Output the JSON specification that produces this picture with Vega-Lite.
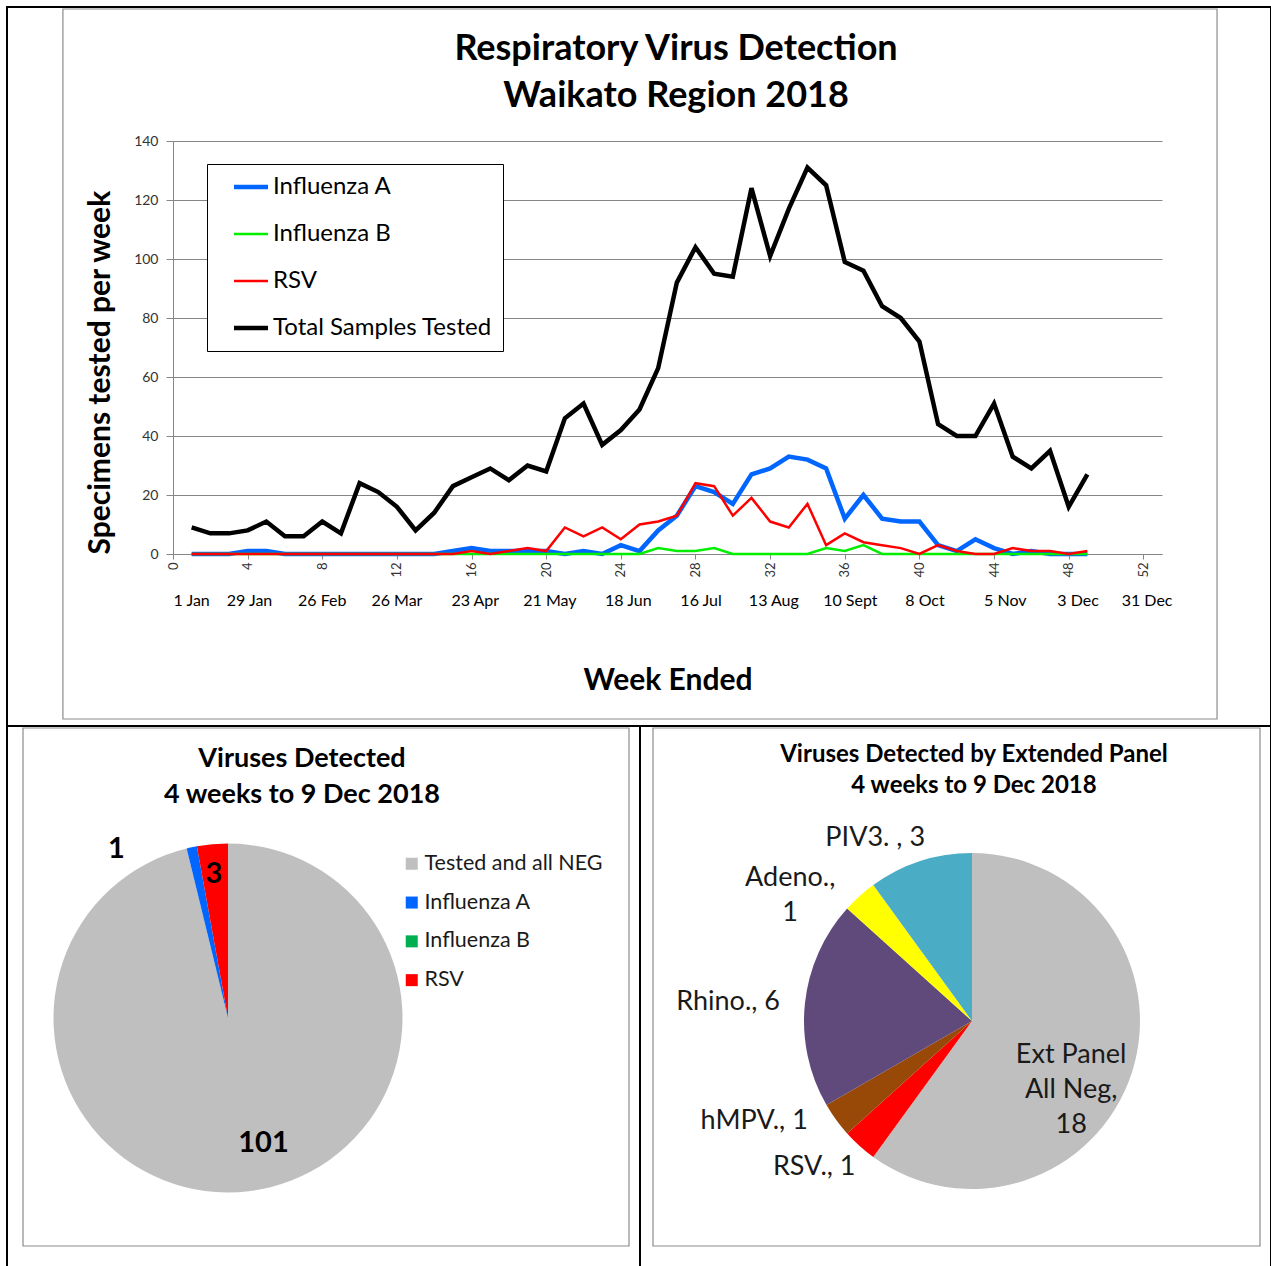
{
  "$schema": "https://vega.github.io/schema/vega-lite/v6.json",
  "padding": {"left": 6, "top": 6, "right": 0, "bottom": 0},
  "background": "white",
  "config": {
    "font": "Lato",
    "view": {"stroke": "black", "strokeWidth": 2}
  },
  "datasets": {
    "weekly": [
      {"week": 1, "fluA": 0, "fluB": 0, "rsv": 0, "total": 9},
      {"week": 2, "fluA": 0, "fluB": 0, "rsv": 0, "total": 7},
      {"week": 3, "fluA": 0, "fluB": 0, "rsv": 0, "total": 7},
      {"week": 4, "fluA": 1, "fluB": 0, "rsv": 0, "total": 8},
      {"week": 5, "fluA": 1, "fluB": 0, "rsv": 0, "total": 11},
      {"week": 6, "fluA": 0, "fluB": 0, "rsv": 0, "total": 6},
      {"week": 7, "fluA": 0, "fluB": 0, "rsv": 0, "total": 6},
      {"week": 8, "fluA": 0, "fluB": 0, "rsv": 0, "total": 11},
      {"week": 9, "fluA": 0, "fluB": 0, "rsv": 0, "total": 7},
      {"week": 10, "fluA": 0, "fluB": 0, "rsv": 0, "total": 24},
      {"week": 11, "fluA": 0, "fluB": 0, "rsv": 0, "total": 21},
      {"week": 12, "fluA": 0, "fluB": 0, "rsv": 0, "total": 16},
      {"week": 13, "fluA": 0, "fluB": 0, "rsv": 0, "total": 8},
      {"week": 14, "fluA": 0, "fluB": 0, "rsv": 0, "total": 14},
      {"week": 15, "fluA": 1, "fluB": 0, "rsv": 0, "total": 23},
      {"week": 16, "fluA": 2, "fluB": 0, "rsv": 1, "total": 26},
      {"week": 17, "fluA": 1, "fluB": 0, "rsv": 0, "total": 29},
      {"week": 18, "fluA": 1, "fluB": 0, "rsv": 1, "total": 25},
      {"week": 19, "fluA": 1, "fluB": 0, "rsv": 2, "total": 30},
      {"week": 20, "fluA": 1, "fluB": 0, "rsv": 1, "total": 28},
      {"week": 21, "fluA": 0, "fluB": 0, "rsv": 9, "total": 46},
      {"week": 22, "fluA": 1, "fluB": 0, "rsv": 6, "total": 51},
      {"week": 23, "fluA": 0, "fluB": 0, "rsv": 9, "total": 37},
      {"week": 24, "fluA": 3, "fluB": 0, "rsv": 5, "total": 42},
      {"week": 25, "fluA": 1, "fluB": 0, "rsv": 10, "total": 49},
      {"week": 26, "fluA": 8, "fluB": 2, "rsv": 11, "total": 63},
      {"week": 27, "fluA": 13, "fluB": 1, "rsv": 13, "total": 92},
      {"week": 28, "fluA": 23, "fluB": 1, "rsv": 24, "total": 104},
      {"week": 29, "fluA": 21, "fluB": 2, "rsv": 23, "total": 95},
      {"week": 30, "fluA": 17, "fluB": 0, "rsv": 13, "total": 94},
      {"week": 31, "fluA": 27, "fluB": 0, "rsv": 19, "total": 124},
      {"week": 32, "fluA": 29, "fluB": 0, "rsv": 11, "total": 101},
      {"week": 33, "fluA": 33, "fluB": 0, "rsv": 9, "total": 117},
      {"week": 34, "fluA": 32, "fluB": 0, "rsv": 17, "total": 131},
      {"week": 35, "fluA": 29, "fluB": 2, "rsv": 3, "total": 125},
      {"week": 36, "fluA": 12, "fluB": 1, "rsv": 7, "total": 99},
      {"week": 37, "fluA": 20, "fluB": 3, "rsv": 4, "total": 96},
      {"week": 38, "fluA": 12, "fluB": 0, "rsv": 3, "total": 84},
      {"week": 39, "fluA": 11, "fluB": 0, "rsv": 2, "total": 80},
      {"week": 40, "fluA": 11, "fluB": 0, "rsv": 0, "total": 72},
      {"week": 41, "fluA": 3, "fluB": 0, "rsv": 3, "total": 44},
      {"week": 42, "fluA": 1, "fluB": 0, "rsv": 1, "total": 40},
      {"week": 43, "fluA": 5, "fluB": 0, "rsv": 0, "total": 40},
      {"week": 44, "fluA": 2, "fluB": 0, "rsv": 0, "total": 51},
      {"week": 45, "fluA": 0, "fluB": 0, "rsv": 2, "total": 33},
      {"week": 46, "fluA": 1, "fluB": 0, "rsv": 1, "total": 29},
      {"week": 47, "fluA": 0, "fluB": 0, "rsv": 1, "total": 35},
      {"week": 48, "fluA": 0, "fluB": 0, "rsv": 0, "total": 16},
      {"week": 49, "fluA": 0, "fluB": 0, "rsv": 1, "total": 27}
    ],
    "dates": [
      {"week": 1, "date": "1 Jan"},
      {"week": 4.1, "date": "29 Jan"},
      {"week": 8, "date": "26 Feb"},
      {"week": 12, "date": "26 Mar"},
      {"week": 16.2, "date": "23 Apr"},
      {"week": 20.2, "date": "21 May"},
      {"week": 24.4, "date": "18 Jun"},
      {"week": 28.3, "date": "16 Jul"},
      {"week": 32.2, "date": "13 Aug"},
      {"week": 36.3, "date": "10 Sept"},
      {"week": 40.3, "date": "8 Oct"},
      {"week": 44.6, "date": "5 Nov"},
      {"week": 48.5, "date": "3 Dec"},
      {"week": 52.2, "date": "31 Dec"}
    ],
    "routine": [
      {"virus": "Tested and all NEG", "count": 101, "k": 1},
      {"virus": "Influenza A", "count": 1, "k": 2},
      {"virus": "Influenza B", "count": 0, "k": 3},
      {"virus": "RSV", "count": 3, "k": 4}
    ],
    "extended": [
      {"virus": "Ext Panel All Neg", "count": 18, "k": 1, "label": "Ext Panel\nAll Neg,\n18"},
      {"virus": "RSV.", "count": 1, "k": 2, "label": "RSV., 1"},
      {"virus": "hMPV.", "count": 1, "k": 3, "label": "hMPV., 1"},
      {"virus": "Rhino.", "count": 6, "k": 4, "label": "Rhino., 6"},
      {"virus": "Adeno.", "count": 1, "k": 5, "label": "Adeno.,\n1"},
      {"virus": "PIV3. ", "count": 3, "k": 6, "label": "PIV3. , 3"}
    ]
  },
  "spacing": 0,
  "bounds": "flush",
  "resolve": {
    "scale": {"color": "independent", "theta": "independent", "x": "independent", "y": "independent"},
    "legend": {"color": "independent"}
  },
  "vconcat": [
    {
      "width": 1264,
      "height": 719,
      "title": {
        "text": ["Respiratory Virus Detection", "Waikato Region 2018"],
        "fontSize": 36, "fontWeight": "bold", "lineHeight": 47, "color": "black",
        "anchor": "middle", "frame": "group", "offset": -108, "dx": 37
      },
      "layer": [
        {
          "data": {"values": [{}]},
          "mark": {"type": "rect", "filled": false, "stroke": "#8c8c8c", "strokeWidth": 1.2},
          "encoding": {
            "x": {"datum": -5.9, "type": "quantitative"},
            "x2": {"datum": 55.95},
            "y": {"datum": 184.75, "type": "quantitative"},
            "y2": {"datum": -55.93}
          }
        },
        {
          "data": {"name": "weekly"},
          "transform": [{"fold": ["fluA", "fluB", "rsv", "total"], "as": ["series", "value"]}],
          "mark": {"type": "line", "strokeJoin": "miter"},
          "encoding": {
            "x": {
              "field": "week", "type": "quantitative",
              "scale": {"domain": [0, 53], "range": [166, 1155], "nice": false, "zero": false},
              "axis": {
                "values": [0, 4, 8, 12, 16, 20, 24, 28, 32, 36, 40, 44, 48, 52],
                "labelAngle": -90, "labelFontSize": 13, "labelColor": "#333333", "labelPadding": 3,
                "labelFlush": false, "labelOverlap": false,
                "tickSize": 5, "tickColor": "#868686", "domainColor": "#868686", "grid": false,
                "offset": -172,
                "title": "Week Ended", "titleFontSize": 30, "titleFontWeight": "bold", "titleColor": "black",
                "titlePadding": 88
              }
            },
            "y": {
              "field": "value", "type": "quantitative",
              "scale": {"domain": [0, 140], "range": [547, 134], "nice": false},
              "axis": {
                "values": [0, 20, 40, 60, 80, 100, 120, 140],
                "grid": true, "gridColor": "#868686", "gridWidth": 1,
                "tickSize": 7, "tickColor": "#868686", "domainColor": "#868686",
                "labelFontSize": 14, "labelColor": "#333333", "labelPadding": 8,
                "offset": -166,
                "title": "Specimens tested per week", "titleFontSize": 30, "titleFontWeight": "bold",
                "titleColor": "black", "titleAnchor": "start", "titlePadding": 18
              }
            },
            "color": {
              "field": "series", "type": "nominal",
              "scale": {"domain": ["fluA", "fluB", "rsv", "total"], "range": ["#0066FF", "#00EE00", "#FF0000", "#000000"]},
              "legend": {
                "orient": "none", "legendX": 200, "legendY": 157, "title": null,
                "strokeColor": "black", "fillColor": "white", "padding": 11,
                "symbolType": "stroke", "symbolSize": 1156, "symbolOffset": 21,
                "labelFontSize": 24, "labelColor": "black", "labelOffset": 10, "rowPadding": 23, "labelLimit": 500,
                "labelExpr": "datum.label == 'fluA' ? 'Influenza A' : datum.label == 'fluB' ? 'Influenza B' : datum.label == 'rsv' ? 'RSV' : 'Total Samples Tested'",
                "encode": {
                  "symbols": {
                    "update": {
                      "strokeWidth": {"signal": "datum.value === 'fluA' || datum.value === 'total' ? 4.5 : 2.5"}
                    }
                  }
                }
              }
            },
            "strokeWidth": {
              "condition": {"test": "datum.series === 'fluA' || datum.series === 'total'", "value": 4.5},
              "value": 2.5
            }
          }
        },
        {
          "data": {"name": "dates"},
          "mark": {"type": "text", "fontSize": 16, "color": "black", "baseline": "middle", "align": "center"},
          "encoding": {
            "x": {"field": "week", "type": "quantitative"},
            "y": {"datum": -16, "type": "quantitative"},
            "text": {"field": "date", "type": "nominal"}
          }
        }
      ]
    },
    {
      "spacing": 0,
      "bounds": "flush",
      "resolve": {
        "scale": {"color": "independent", "theta": "independent", "x": "independent", "y": "independent"},
        "legend": {"color": "independent"}
      },
      "hconcat": [
        {
          "width": 633,
          "height": 545,
          "title": {
            "text": ["Viruses Detected", "4 weeks to 9 Dec 2018"],
            "fontSize": 27, "fontWeight": "bold", "lineHeight": 36, "color": "black",
            "anchor": "middle", "frame": "group", "offset": -83, "dx": -21.5
          },
          "data": {"name": "routine"},
          "layer": [
            {
              "data": {"values": [{}]},
              "mark": {"type": "rect", "filled": false, "stroke": "#8c8c8c", "strokeWidth": 1.2},
              "encoding": {
                "x": {"datum": 0.02528, "type": "quantitative", "scale": {"domain": [0, 1]}, "axis": null},
                "x2": {"datum": 0.98262},
                "y": {"datum": 0.99633, "type": "quantitative", "scale": {"domain": [0, 1]}, "axis": null},
                "y2": {"datum": 0.04587}
              }
            },
            {
              "encoding": {
                "theta": {"field": "count", "type": "quantitative", "stack": true},
                "order": {"field": "k", "type": "quantitative"}
              },
              "layer": [
                {
                  "mark": {"type": "arc", "outerRadius": 174.5, "x": 221, "y": 292},
                  "encoding": {
                    "color": {
                      "field": "virus", "type": "nominal",
                      "scale": {"domain": ["Tested and all NEG", "Influenza A", "Influenza B", "RSV"], "range": ["#BFBFBF", "#0066FF", "#00B050", "#FF0000"]},
                      "legend": {
                        "orient": "none", "legendX": 394, "legendY": 127, "title": null, "padding": 0,
                        "symbolType": "square", "symbolSize": 144, "symbolStrokeWidth": 0,
                        "labelFontSize": 21.5, "labelColor": "#1a1a1a", "labelOffset": 2, "rowPadding": 15.8, "labelLimit": 400
                      }
                    }
                  }
                },
                {
                  "mark": {"type": "text", "x": 221, "y": 292, "radius": 130, "dx": 20, "dy": -4, "fontSize": 29, "fontWeight": "bold", "color": "black", "align": "center", "baseline": "middle"},
                  "encoding": {
                    "detail": {"field": "virus", "type": "nominal"},
                    "text": {"condition": {"test": "datum.virus === 'Tested and all NEG'", "field": "count", "type": "quantitative"}, "value": ""}
                  }
                },
                {
                  "mark": {"type": "text", "x": 221, "y": 292, "radius": 145, "dx": -1, "dy": 0, "fontSize": 29, "fontWeight": "bold", "color": "black", "align": "center", "baseline": "middle"},
                  "encoding": {
                    "detail": {"field": "virus", "type": "nominal"},
                    "text": {"condition": {"test": "datum.virus === 'RSV'", "field": "count", "type": "quantitative"}, "value": ""}
                  }
                },
                {
                  "mark": {"type": "text", "x": 221, "y": 292, "radius": 200, "dx": -70, "dy": 27, "fontSize": 29, "fontWeight": "bold", "color": "black", "align": "center", "baseline": "middle"},
                  "encoding": {
                    "detail": {"field": "virus", "type": "nominal"},
                    "text": {"condition": {"test": "datum.virus === 'Influenza A'", "field": "count", "type": "quantitative"}, "value": ""}
                  }
                }
              ]
            }
          ]
        },
        {
          "width": 631,
          "height": 545,
          "title": {
            "text": ["Viruses Detected by Extended Panel", "4 weeks to 9 Dec 2018"],
            "fontSize": 24, "fontWeight": "bold", "lineHeight": 31, "color": "black",
            "anchor": "middle", "frame": "group", "offset": -72, "dx": 18.5
          },
          "data": {"name": "extended"},
          "layer": [
            {
              "data": {"values": [{}]},
              "mark": {"type": "rect", "filled": false, "stroke": "#8c8c8c", "strokeWidth": 1.2},
              "encoding": {
                "x": {"datum": 0.0206, "type": "quantitative", "scale": {"domain": [0, 1]}, "axis": null},
                "x2": {"datum": 0.98257},
                "y": {"datum": 0.99633, "type": "quantitative", "scale": {"domain": [0, 1]}, "axis": null},
                "y2": {"datum": 0.04587}
              }
            },
            {
              "encoding": {
                "theta": {"field": "count", "type": "quantitative", "stack": true},
                "order": {"field": "k", "type": "quantitative"}
              },
              "layer": [
                {
                  "mark": {"type": "arc", "outerRadius": 168, "x": 332, "y": 295},
                  "encoding": {
                    "color": {
                      "field": "virus", "type": "nominal",
                      "scale": {"domain": ["Ext Panel All Neg", "RSV.", "hMPV.", "Rhino.", "Adeno.", "PIV3. "], "range": ["#BFBFBF", "#FF0000", "#984807", "#604A7B", "#FFFF00", "#4BACC6"]},
                      "legend": null
                    }
                  }
                },
                {
                  "mark": {"type": "text", "x": 332, "y": 295, "radius": 120, "dx": -15, "dy": -3, "fontSize": 27, "color": "#1a1a1a", "align": "center", "baseline": "middle", "lineBreak": "\n", "lineHeight": 35},
                  "encoding": {
                    "detail": {"field": "virus", "type": "nominal"},
                    "text": {"condition": {"test": "datum.k === 1", "field": "label", "type": "nominal"}, "value": ""}
                  }
                },
                {
                  "mark": {"type": "text", "x": 332, "y": 295, "radius": 200, "dx": -24, "dy": -3, "fontSize": 27, "color": "#1a1a1a", "align": "center", "baseline": "middle"},
                  "encoding": {
                    "detail": {"field": "virus", "type": "nominal"},
                    "text": {"condition": {"test": "datum.k === 2", "field": "label", "type": "nominal"}, "value": ""}
                  }
                },
                {
                  "mark": {"type": "text", "x": 332, "y": 295, "radius": 200, "dx": -56, "dy": -18, "fontSize": 27, "color": "#1a1a1a", "align": "center", "baseline": "middle"},
                  "encoding": {
                    "detail": {"field": "virus", "type": "nominal"},
                    "text": {"condition": {"test": "datum.k === 3", "field": "label", "type": "nominal"}, "value": ""}
                  }
                },
                {
                  "mark": {"type": "text", "x": 332, "y": 295, "radius": 200, "dx": -45, "dy": 2, "fontSize": 27, "color": "#1a1a1a", "align": "center", "baseline": "middle"},
                  "encoding": {
                    "detail": {"field": "virus", "type": "nominal"},
                    "text": {"condition": {"test": "datum.k === 4", "field": "label", "type": "nominal"}, "value": ""}
                  }
                },
                {
                  "mark": {"type": "text", "x": 332, "y": 295, "radius": 200, "dx": -48, "dy": 6, "fontSize": 27, "color": "#1a1a1a", "align": "center", "baseline": "middle", "lineBreak": "\n", "lineHeight": 35},
                  "encoding": {
                    "detail": {"field": "virus", "type": "nominal"},
                    "text": {"condition": {"test": "datum.k === 5", "field": "label", "type": "nominal"}, "value": ""}
                  }
                },
                {
                  "mark": {"type": "text", "x": 332, "y": 295, "radius": 200, "dx": -35, "dy": 7, "fontSize": 27, "color": "#1a1a1a", "align": "center", "baseline": "middle"},
                  "encoding": {
                    "detail": {"field": "virus", "type": "nominal"},
                    "text": {"condition": {"test": "datum.k === 6", "field": "label", "type": "nominal"}, "value": ""}
                  }
                }
              ]
            }
          ]
        }
      ]
    }
  ]
}
